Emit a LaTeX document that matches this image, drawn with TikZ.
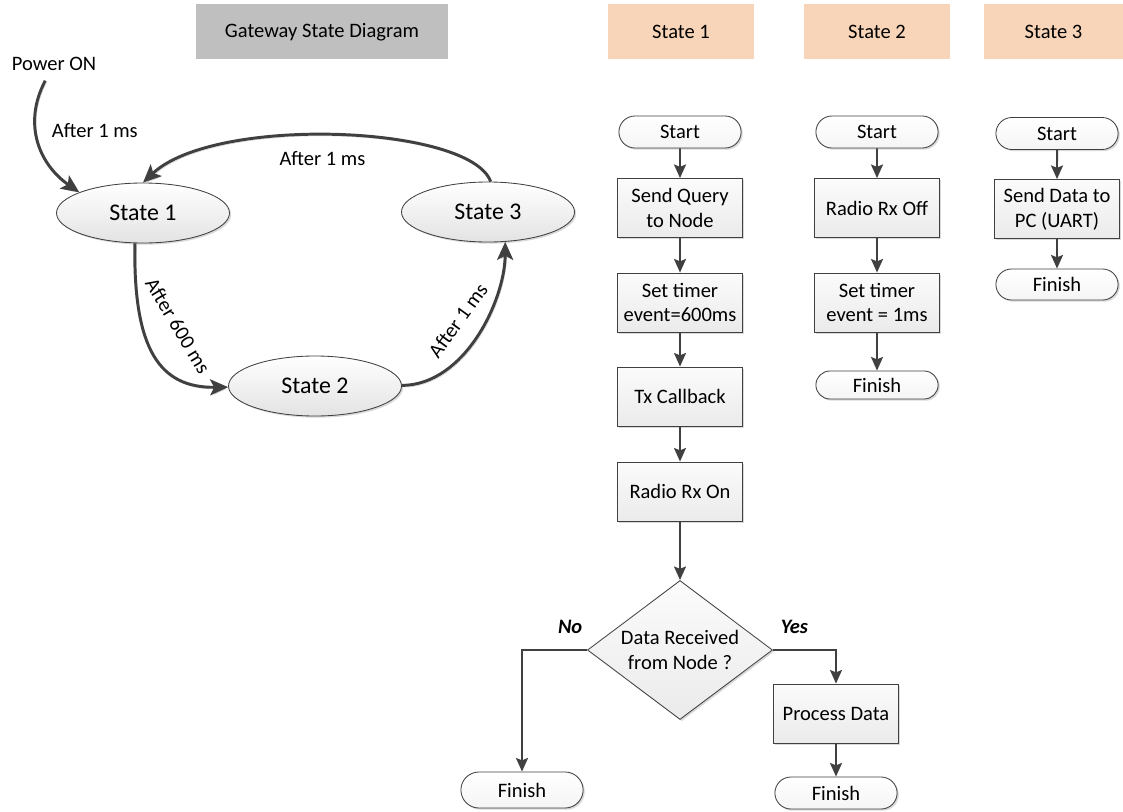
\documentclass[tikz,border=0pt]{standalone}
\usepackage{fontspec}
\setmainfont{Carlito}
\usetikzlibrary{arrows.meta,shapes.geometric,shapes.misc,shadows}

\definecolor{darkline}{HTML}{404040}
\definecolor{peach}{HTML}{F8D5B8}
\definecolor{titlegray}{HTML}{BFBFBF}

\newcommand{\basefont}{\fontsize{14.6}{17.5}\selectfont}

\tikzset{
  flow/.style={->, draw=darkline, line width=1.4pt},
  trans/.style={-{Stealth[length=4.5mm,width=4mm,inset=1mm]}, draw=darkline, line width=2.1pt,
    preaction={draw=black!18, transform canvas={xshift=1pt,yshift=-1.2pt}}},
  softshadow/.style={drop shadow={shadow xshift=1.2pt,shadow yshift=-1.2pt,opacity=0.3}},
  header/.style={fill=peach, minimum width=36.5mm, minimum height=13.75mm, inner sep=0pt},
  state/.style={ellipse, draw=darkline, line width=0.6pt, top color=white, bottom color=gray!22,
    softshadow, minimum width=43.25mm, minimum height=15mm, inner sep=0pt,
    font=\fontsize{17}{20}\selectfont},
  stepbox/.style={rectangle, draw=darkline, line width=0.6pt, top color=gray!3, bottom color=gray!16,
    softshadow, minimum width=31.25mm, minimum height=14.75mm, inner sep=1pt, align=center},
  term/.style={rounded rectangle, draw=darkline, line width=0.6pt, top color=white, bottom color=gray!8,
    softshadow, minimum width=31.25mm, minimum height=8mm, inner sep=1pt},
  decision/.style={diamond, aspect=1.33, draw=darkline, line width=0.6pt, top color=gray!3,
    bottom color=gray!16, softshadow, minimum width=46.25mm, minimum height=34.75mm,
    inner sep=0pt, align=center},
  lbl/.style={inner sep=1pt},
  answer/.style={inner sep=1pt, font=\basefont\bfseries\itshape},
}

\begin{document}
\begin{tikzpicture}[x=0.25mm, y=-0.25mm, >={Stealth[length=3.4mm,width=3mm,inset=0.6mm]},
    font=\basefont]
  \useasboundingbox (0,0) rectangle (1123,812);
  % Title bars
  \node[header, fill=titlegray, minimum width=63mm] (gwtitle) at (322,32) {Gateway State Diagram};
  \node[header] (h1) at (681,32) {State 1};
  \node[header] (h2) at (877,32) {State 2};
  \node[header, minimum width=34.75mm] (h3) at (1053.5,32) {State 3};
  % State machine
  \node (power) at (54,64) {Power ON};
  \node[state] (s1) at (143,213) {State 1};
  \node[state] (s3) at (488,212) {State 3};
  \node[state] (s2) at (315,386) {State 2};
  \draw[trans, shorten <=4pt] (power) .. controls (22,125) and (40,165) .. (s1.162)
    node[lbl, pos=0.4, right=9pt] {After 1 ms};
  \draw[trans] (s1.255) .. controls (133,350) and (160,388) .. (s2)
    node[lbl, pos=0.13, rotate=-59, anchor=south west, inner sep=3.5pt] {After 600 ms};
  \draw[trans] (s2) .. controls (465,385) and (505,300) .. (s3.300)
    node[lbl, pos=0.75, rotate=54, anchor=south east, inner sep=3.5pt] {After 1 ms};
  \draw[trans] (s3.85) .. controls (470,125) and (215,115) .. (s1.north)
    node[lbl, pos=0.53, below=9.5pt] {After 1 ms};
  % State 1 flow
  \node[term] (a0) at (680,132) {Start};
  \node[stepbox] (a1) at (680,208) {Send Query\\to Node};
  \node[stepbox] (a2) at (680,302.5) {Set timer\\event=600ms};
  \node[stepbox] (a3) at (680,396.5) {Tx Callback};
  \node[stepbox] (a4) at (680,491.5) {Radio Rx On};
  \node[decision] (a5) at (680,650) {Data Received\\from Node ?};
  \node[term, minimum height=9mm] (a6) at (522,790) {Finish};
  \node[stepbox] (a7) at (836,713.5) {Process Data};
  \node[term] (a8) at (836,793) {Finish};
  \draw[flow] (a0) -- (a1);
  \draw[flow] (a1) -- (a2);
  \draw[flow] (a2) -- (a3);
  \draw[flow] (a3) -- (a4);
  \draw[flow] (a4) -- (a5);
  \draw[flow] (a5.west) -| (a6) node[answer, pos=0.13, above=10pt] {No};
  \draw[flow] (a5.east) -| (a7) node[answer, pos=0.17, above=10pt] {Yes};
  \draw[flow] (a7) -- (a8);
  % State 2 flow
  \node[term] (b0) at (877,132) {Start};
  \node[stepbox] (b1) at (877,208) {Radio Rx Off};
  \node[stepbox] (b2) at (877,302.5) {Set timer\\event = 1ms};
  \node[term, minimum height=7mm] (b3) at (877,385) {Finish};
  \draw[flow] (b0) -- (b1);
  \draw[flow] (b1) -- (b2);
  \draw[flow] (b2) -- (b3);
  % State 3 flow
  \node[term] (c0) at (1057,133.5) {Start};
  \node[stepbox] (c1) at (1057,209) {Send Data to\\PC (UART)};
  \node[term, minimum height=7.75mm] (c2) at (1057,284.5) {Finish};
  \draw[flow] (c0) -- (c1);
  \draw[flow] (c1) -- (c2);
\end{tikzpicture}
\end{document}
